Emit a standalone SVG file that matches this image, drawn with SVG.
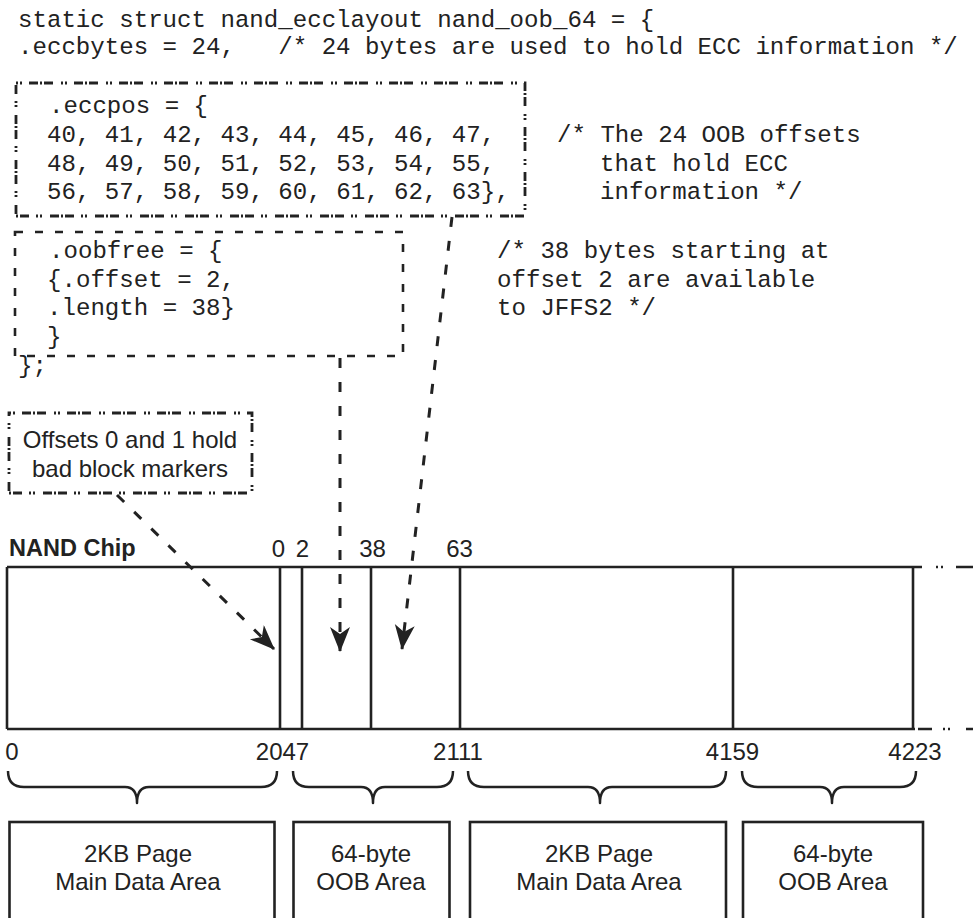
<svg xmlns="http://www.w3.org/2000/svg" width="973" height="918" viewBox="0 0 973 918">
<defs>
<style>
.code{font-family:"Liberation Mono","Courier New",monospace;font-size:24.1px;fill:#222;white-space:pre}
.sans{font-family:"Liberation Sans",Arial,sans-serif;font-size:24px;fill:#222}
.bold{font-family:"Liberation Sans",Arial,sans-serif;font-size:23.5px;font-weight:bold;fill:#222}
.mid{text-anchor:middle}
.dashdot{fill:none;stroke:#222;stroke-width:2.8;stroke-dasharray:2 2 2 7 9 2 2 2 9 8}
.dash{fill:none;stroke:#222;stroke-width:2.6;stroke-dasharray:8 12}
.solid{fill:none;stroke:#222;stroke-width:2.6}
.brace{fill:none;stroke:#222;stroke-width:2.5;stroke-linejoin:round}
.arrow{fill:none;stroke:#222;stroke-width:3;stroke-dasharray:10 14;marker-end:url(#ah)}
</style>
<marker id="ah" markerUnits="userSpaceOnUse" markerWidth="28" markerHeight="22" refX="24" refY="10" orient="auto">
<path d="M0,0 L25,10 L0,20 L7,10 z" fill="#222"/>
</marker>
</defs>
<rect width="973" height="918" fill="#fff"/>

<g id="code-header">
<text class="code" x="18" y="27">static struct nand_ecclayout nand_oob_64 = {</text>
<text class="code" x="18" y="54">.eccbytes = 24,   /* 24 bytes are used to hold ECC information */</text>
</g>

<g id="eccpos">
<rect class="dashdot" x="16" y="83" width="509" height="133"/>
<text class="code" x="49" y="113">.eccpos = {</text>
<text class="code" x="47" y="142">40, 41, 42, 43, 44, 45, 46, 47,</text>
<text class="code" x="47" y="171">48, 49, 50, 51, 52, 53, 54, 55,</text>
<text class="code" x="47" y="199">56, 57, 58, 59, 60, 61, 62, 63},</text>
</g>
<g id="eccpos-comment">
<text class="code" x="557" y="142">/* The 24 OOB offsets</text>
<text class="code" x="600" y="171">that hold ECC</text>
<text class="code" x="600" y="199">information */</text>
</g>

<g id="oobfree">
<rect class="dash" x="15" y="232" width="388" height="124"/>
<text class="code" x="49" y="258">.oobfree = {</text>
<text class="code" x="47" y="287">{.offset = 2,</text>
<text class="code" x="47" y="315">.length = 38}</text>
<text class="code" x="47" y="344">}</text>
</g>
<g id="oobfree-comment">
<text class="code" x="497" y="258">/* 38 bytes starting at</text>
<text class="code" x="497" y="287">offset 2 are available</text>
<text class="code" x="497" y="315">to JFFS2 */</text>
</g>
<g id="code-end">
<text class="code" x="18" y="373">};</text>
</g>

<g id="badblock">
<rect class="dashdot" x="9" y="413" width="243" height="80"/>
<text class="sans mid" x="130" y="448">Offsets 0 and 1 hold</text>
<text class="sans mid" x="130" y="477">bad block markers</text>
</g>

<g id="nand-chip">
<text class="bold" x="9" y="556">NAND Chip</text>
<line class="solid" x1="7" y1="567" x2="922" y2="567"/>
<line class="solid" x1="7" y1="729" x2="915" y2="729"/>
<line class="solid" x1="7" y1="567" x2="7" y2="729"/>
<line class="solid" x1="280" y1="567" x2="280" y2="729"/>
<line class="solid" x1="302" y1="567" x2="302" y2="729"/>
<line class="solid" x1="371" y1="567" x2="371" y2="729"/>
<line class="solid" x1="460" y1="567" x2="460" y2="729"/>
<line class="solid" x1="733" y1="567" x2="733" y2="729"/>
<line class="solid" x1="913" y1="567" x2="913" y2="729"/>
<path d="M936,567 h2 M941,567 h2 M956,567 h17" stroke="#222" stroke-width="2.6" fill="none"/>
<path d="M918,729 h14 M943,729 h2 M948,729 h2 M966,729 h7" stroke="#222" stroke-width="2.6" fill="none"/>
<text class="sans mid" x="278.5" y="557">0</text>
<text class="sans mid" x="302.5" y="557">2</text>
<text class="sans mid" x="372.5" y="557">38</text>
<text class="sans mid" x="459.5" y="557">63</text>
<text class="sans mid" x="12" y="760">0</text>
<text class="sans mid" x="282.5" y="760">2047</text>
<text class="sans mid" x="458" y="760">2111</text>
<text class="sans mid" x="732.5" y="760">4159</text>
<text class="sans mid" x="915" y="760">4223</text>
</g>

<g id="braces">
<path class="brace" d="M8,771 Q8,787 24,787 L125,787 Q137,787 137,803 Q137,787 149,787 L261,787 Q277,787 277,771"/>
<path class="brace" d="M293,771 Q293,787 309,787 L361,787 Q373,787 373,803 Q373,787 385,787 L437,787 Q453,787 453,771"/>
<path class="brace" d="M468,771 Q468,787 484,787 L588,787 Q600,787 600,803 Q600,787 612,787 L710,787 Q726,787 726,771"/>
<path class="brace" d="M742,771 Q742,787 758,787 L820,787 Q832,787 832,803 Q832,787 844,787 L900,787 Q916,787 916,771"/>
</g>

<g id="main-area-1">
<rect class="solid" x="9.5" y="822" width="265" height="110"/>
<text class="sans mid" x="138" y="862">2KB Page</text>
<text class="sans mid" x="138" y="890">Main Data Area</text>
</g>
<g id="oob-area-1">
<rect class="solid" x="293.5" y="822" width="156" height="110"/>
<text class="sans mid" x="371" y="862">64-byte</text>
<text class="sans mid" x="371" y="890">OOB Area</text>
</g>
<g id="main-area-2">
<rect class="solid" x="470" y="822" width="256" height="110"/>
<text class="sans mid" x="599" y="862">2KB Page</text>
<text class="sans mid" x="599" y="890">Main Data Area</text>
</g>
<g id="oob-area-2">
<rect class="solid" x="743" y="822" width="180" height="110"/>
<text class="sans mid" x="833" y="862">64-byte</text>
<text class="sans mid" x="833" y="890">OOB Area</text>
</g>

<g id="connectors">
<line class="arrow" x1="117" y1="495" x2="274" y2="649"/>
<line class="arrow" x1="340" y1="358" x2="340" y2="651"/>
<line class="arrow" x1="452" y1="217" x2="402" y2="649"/>
</g>
</svg>
